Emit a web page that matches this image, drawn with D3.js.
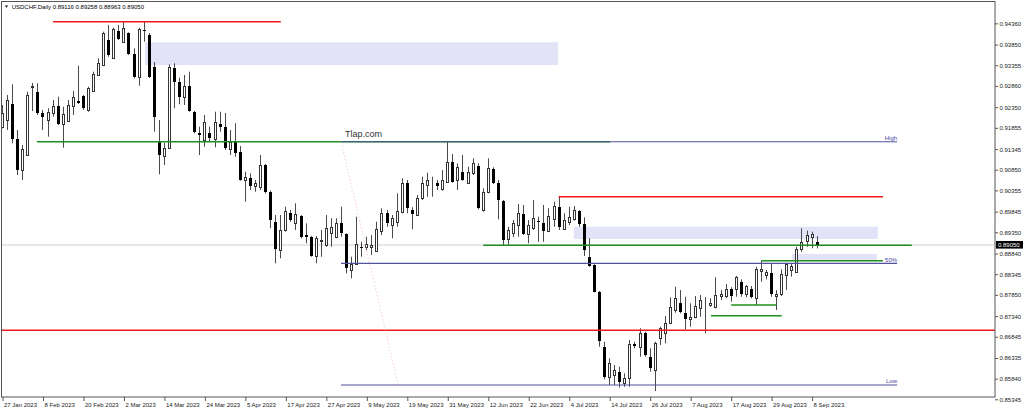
<!DOCTYPE html>
<html><head><meta charset="utf-8">
<script src="https://cdn.jsdelivr.net/npm/d3@7"></script>
<style>html,body{margin:0;padding:0;background:#fff;}svg{display:block;font-family:"Liberation Sans",Arial,sans-serif;}</style>
</head><body><svg id="c" width="1024" height="414"></svg>
<script>
// ---- data (USDCHF daily, 27 Jan 2023 .. 11 Sep 2023, one entry per trading day) ----
const symbolTitle = "USDCHF,Daily";
const lastQuote = [0.89116, 0.89258, 0.88963, 0.89050];
const opens = [0.91882,0.92042,0.92419,0.91587,0.90843,0.91203,0.92834,0.92721,0.92203,0.92042,0.92203,0.92385,0.91939,0.92018,0.92385,0.92498,0.92625,0.92282,0.92738,0.93122,0.93361,0.93961,0.93522,0.94177,0.93920,0.94122,0.93618,0.93081,0.94201,0.94081,0.93313,0.91522,0.91186,0.91378,0.93297,0.92961,0.92601,0.92865,0.92241,0.91738,0.91563,0.91724,0.91580,0.91947,0.91882,0.91340,0.91546,0.91282,0.90604,0.90644,0.90460,0.90443,0.90963,0.90323,0.89604,0.88925,0.89405,0.89805,0.89580,0.89740,0.89278,0.89244,0.88781,0.89141,0.89045,0.89340,0.89244,0.89565,0.89309,0.88445,0.88589,0.89004,0.89004,0.88990,0.88908,0.89388,0.89805,0.89525,0.89604,0.89843,0.90539,0.89884,0.89764,0.90165,0.90484,0.90508,0.90524,0.90381,0.90563,0.91042,0.90604,0.90803,0.90539,0.90764,0.90939,0.89884,0.90323,0.90860,0.90524,0.90107,0.89182,0.89326,0.89525,0.89788,0.89309,0.89445,0.89628,0.89565,0.89388,0.89661,0.89949,0.89421,0.89604,0.89661,0.89860,0.89541,0.88764,0.88565,0.87925,0.86606,0.85887,0.85928,0.86007,0.85743,0.85848,0.86671,0.86606,0.86942,0.86366,0.86047,0.86808,0.86942,0.87182,0.87486,0.87661,0.87422,0.87278,0.87326,0.87527,0.87678,0.87606,0.87565,0.87829,0.87822,0.87983,0.87983,0.88165,0.87870,0.87997,0.87767,0.88429,0.88326,0.88366,0.87822,0.87870,0.88326,0.88445,0.88405,0.88942,0.89148,0.89244,0.89116];
const highs = [0.92402,0.92642,0.92899,0.91803,0.91443,0.92721,0.92930,0.92923,0.92282,0.92323,0.92522,0.92601,0.92361,0.92522,0.92738,0.93345,0.92642,0.92841,0.93201,0.93522,0.94160,0.94321,0.94256,0.94321,0.94416,0.94145,0.93762,0.94256,0.94416,0.94129,0.93433,0.92042,0.91491,0.93378,0.93402,0.93057,0.93122,0.93201,0.92258,0.91882,0.92162,0.91882,0.92241,0.92241,0.92210,0.91803,0.91963,0.91419,0.90803,0.90764,0.90604,0.91203,0.90987,0.90347,0.89764,0.89764,0.89963,0.89884,0.90045,0.89764,0.89565,0.89261,0.89261,0.89405,0.89764,0.89685,0.89685,0.89963,0.89326,0.88764,0.89724,0.89124,0.89244,0.89285,0.89604,0.89925,0.89884,0.89764,0.90285,0.90644,0.90604,0.89949,0.90244,0.90683,0.90779,0.90683,0.90604,0.90843,0.91522,0.91227,0.91004,0.91203,0.90923,0.91124,0.91004,0.90405,0.91124,0.90908,0.90604,0.90124,0.89484,0.89644,0.90028,0.90004,0.89644,0.90124,0.89724,0.90004,0.89925,0.90083,0.90203,0.89805,0.89963,0.89980,0.89884,0.89709,0.89206,0.88582,0.87942,0.86726,0.86328,0.86167,0.86127,0.85968,0.86767,0.86726,0.87047,0.86966,0.86568,0.86726,0.87086,0.87342,0.87791,0.88045,0.87966,0.87805,0.87647,0.87822,0.87846,0.87791,0.87767,0.88270,0.87966,0.88110,0.88031,0.88302,0.88222,0.88086,0.88062,0.88525,0.88668,0.88445,0.88589,0.87966,0.88462,0.88621,0.88589,0.89004,0.89445,0.89388,0.89364,0.89258];
const lows = [0.91843,0.91803,0.91484,0.90724,0.90604,0.91179,0.92258,0.92162,0.91803,0.91642,0.92122,0.91923,0.91378,0.92002,0.92162,0.92426,0.92282,0.92241,0.92721,0.93105,0.93345,0.93560,0.93505,0.93961,0.93906,0.93601,0.93042,0.92865,0.93920,0.93050,0.91762,0.90740,0.90963,0.91364,0.92323,0.92419,0.92402,0.92241,0.91724,0.91203,0.91402,0.91522,0.91388,0.91762,0.91323,0.91203,0.91162,0.90587,0.90083,0.90364,0.90323,0.90364,0.90285,0.89445,0.88606,0.88726,0.89364,0.89604,0.89405,0.89206,0.89086,0.88764,0.88606,0.88764,0.89004,0.89004,0.89206,0.89244,0.88366,0.88246,0.88565,0.88764,0.88925,0.88805,0.88884,0.89285,0.89484,0.89206,0.89484,0.89805,0.89805,0.89421,0.89740,0.90124,0.90203,0.90203,0.90364,0.90347,0.90539,0.90539,0.90364,0.90587,0.90524,0.90724,0.89901,0.89843,0.90285,0.90508,0.89661,0.89045,0.89045,0.89230,0.89244,0.89285,0.89086,0.89405,0.89124,0.89124,0.89364,0.89484,0.89405,0.89405,0.89525,0.89628,0.89484,0.88781,0.88525,0.87911,0.86606,0.85824,0.85688,0.85688,0.85628,0.85647,0.85647,0.86568,0.86366,0.86366,0.86007,0.85544,0.86647,0.86688,0.87167,0.87422,0.87407,0.87023,0.87086,0.87287,0.87326,0.86928,0.87565,0.87527,0.87726,0.87767,0.87685,0.87805,0.87805,0.87791,0.87767,0.87606,0.88165,0.88222,0.87805,0.87486,0.87822,0.87966,0.88285,0.88381,0.88884,0.89004,0.88966,0.88963];
const closes = [0.92203,0.92522,0.91587,0.90843,0.91340,0.92642,0.92846,0.92203,0.92122,0.92227,0.92385,0.91939,0.92179,0.92402,0.92601,0.92443,0.92323,0.92817,0.93138,0.93417,0.94122,0.93601,0.94225,0.93985,0.94241,0.93618,0.93081,0.94225,0.94165,0.93074,0.92122,0.91203,0.91378,0.93321,0.92961,0.92601,0.92858,0.92258,0.91747,0.91683,0.91994,0.91604,0.91987,0.91867,0.91364,0.91522,0.91258,0.90604,0.90668,0.90460,0.90524,0.90963,0.90323,0.89644,0.88942,0.89405,0.89868,0.89644,0.89788,0.89244,0.89230,0.88781,0.89206,0.89153,0.89445,0.89484,0.89580,0.89340,0.88486,0.88589,0.89069,0.88997,0.89069,0.89045,0.89421,0.89820,0.89580,0.89685,0.89868,0.90524,0.89925,0.89788,0.90165,0.90524,0.90604,0.90515,0.90460,0.90604,0.91042,0.90563,0.90908,0.90604,0.90803,0.91019,0.89925,0.90323,0.90884,0.90524,0.90124,0.89165,0.89405,0.89580,0.89805,0.89309,0.89525,0.89685,0.89589,0.89388,0.89740,0.89980,0.89484,0.89644,0.89724,0.89884,0.89549,0.88925,0.88541,0.87925,0.86750,0.85887,0.86223,0.86047,0.85767,0.85848,0.86671,0.86623,0.86942,0.86407,0.86088,0.86688,0.87047,0.87182,0.87551,0.87767,0.87445,0.87263,0.87311,0.87582,0.87726,0.87690,0.87661,0.87846,0.87870,0.87997,0.87822,0.88270,0.87870,0.88062,0.87791,0.88462,0.88462,0.88397,0.87870,0.87870,0.88350,0.88589,0.88541,0.88956,0.89124,0.89285,0.89302,0.89050];
const dateTickBars = [0,8,16,24,32,40,48,56,64,72,80,88,96,104,112,120,128,136,144,152,160];
const dateTickLabels = ["27 Jan 2023","8 Feb 2023","20 Feb 2023","2 Mar 2023","14 Mar 2023","24 Mar 2023","5 Apr 2023","17 Apr 2023","27 Apr 2023","9 May 2023","19 May 2023","31 May 2023","12 Jun 2023","22 Jun 2023","4 Jul 2023","14 Jul 2023","26 Jul 2023","7 Aug 2023","17 Aug 2023","29 Aug 2023","8 Sep 2023"];
const priceTicks = [0.94360,0.93850,0.93355,0.92860,0.92350,0.91855,0.91345,0.90850,0.90355,0.89845,0.89350,0.88840,0.88345,0.87850,0.87340,0.86845,0.86335,0.85840,0.85345];
// drawn objects: bar-index spans and price levels
const zones = [{b0:28.3,b1:109.9,top:0.93906,bot:0.93361},{b0:113,b1:173.1,top:0.89484,bot:0.89189},{b0:156.1,b1:172.9,top:0.88829,bot:0.88678}];
const redLevels = [{p:0.94400,b0:10.1,b1:55.1},{p:0.90203,b0:110,b1:174.1},{p:0.87000,b0:-2,b1:200}];
const greenLevels = [{p:0.91522,b0:6.9,b1:120.2},{p:0.89038,b0:95.1,b1:179.8},{p:0.88668,b0:150.1,b1:174.1},{p:0.87606,b0:144.1,b1:153.1},{p:0.87349,b0:140.1,b1:154.1}];
const fibAnchor = {b0:67,b1:176.9,bEnd:78.3,high:0.91522,low:0.85688};
const fibRatios = [1,0.5,0];
const fibLabels = ["High","50%","Low"];
const watermark = "Tlap.com";

// ---- drawing ----
const svg = d3.select("#c");
const R = 995, B = 397;
const x = d3.scaleLinear().domain([0,196]).range([2, 2+5.06*196]);
const y = d3.scaleLinear().domain([0.85345,0.94360]).range([399.3,23.35]);
const snap = v => Math.round(v)+0.5;

svg.append("defs").append("clipPath").attr("id","pc").append("rect")
  .attr("x",2).attr("y",2).attr("width",R-2).attr("height",B-2);
const g = svg.append("g").attr("clip-path","url(#pc)");

// zones (background)
g.selectAll("rect.z").data(zones).join("rect").attr("class","z")
  .attr("x",d=>x(d.b0)).attr("width",d=>x(d.b1)-x(d.b0))
  .attr("y",d=>y(d.top)).attr("height",d=>y(d.bot)-y(d.top))
  .attr("fill","#e3e3f8");

// bid line
g.append("line").attr("x1",0).attr("x2",R).attr("y1",snap(y(lastQuote[3]))-0.5).attr("y2",snap(y(lastQuote[3]))-0.5)
  .attr("stroke","#cfcfcf").attr("stroke-width",1);

// candles
const bars = d3.range(opens.length).map(i=>({i,o:opens[i],h:highs[i],l:lows[i],c:closes[i]}));
const cx = i => Math.round(x(i))+0.5;
g.selectAll("line.w").data(bars).join("line").attr("class","w")
  .attr("x1",d=>cx(d.i)).attr("x2",d=>cx(d.i))
  .attr("y1",d=>y(d.h)).attr("y2",d=>y(d.l))
  .attr("stroke","#4a4a4a").attr("stroke-width",1);
g.selectAll("rect.bear").data(bars.filter(d=>d.c<d.o)).join("rect").attr("class","bear")
  .attr("x",d=>cx(d.i)-1.5).attr("width",3)
  .attr("y",d=>Math.round(y(d.o))).attr("height",d=>Math.max(1,Math.round(y(d.c))-Math.round(y(d.o))))
  .attr("fill","#000");
g.selectAll("rect.bull").data(bars.filter(d=>d.c>=d.o)).join("rect").attr("class","bull")
  .attr("x",d=>cx(d.i)-1).attr("width",2)
  .attr("y",d=>snap(y(d.c))).attr("height",d=>Math.max(0,snap(y(d.o))-snap(y(d.c))))
  .attr("fill","#fff").attr("stroke","#333").attr("stroke-width",1);

// green levels
g.selectAll("line.gr").data(greenLevels).join("line").attr("class","gr")
  .attr("x1",d=>x(d.b0)).attr("x2",d=>x(d.b1)).attr("y1",d=>y(d.p)).attr("y2",d=>y(d.p))
  .attr("stroke","#1f8f1f").attr("stroke-width",1.6);
// red levels
g.selectAll("line.rd").data(redLevels).join("line").attr("class","rd")
  .attr("x1",d=>x(d.b0)).attr("x2",d=>x(d.b1)).attr("y1",d=>y(d.p)).attr("y2",d=>y(d.p))
  .attr("stroke","#f01818").attr("stroke-width",1.6);
// fibonacci (drawn over the levels)
const fibLev = fibRatios.map((r,k)=>({p:fibAnchor.low+r*(fibAnchor.high-fibAnchor.low),label:fibLabels[k]}));
g.append("line").attr("x1",x(fibAnchor.b0)).attr("y1",y(fibAnchor.high)).attr("x2",x(fibAnchor.bEnd)).attr("y2",y(fibAnchor.low))
  .attr("stroke","#f2b4b4").attr("stroke-width",1).attr("stroke-dasharray","1.5,2").attr("opacity",0.6);
g.selectAll("line.fb").data(fibLev).join("line").attr("class","fb")
  .attr("x1",x(fibAnchor.b0)).attr("x2",x(fibAnchor.b1)).attr("y1",d=>y(d.p)).attr("y2",d=>y(d.p))
  .attr("stroke","#52529e").attr("stroke-width",1.1);
g.selectAll("text.fb").data(fibLev).join("text").attr("class","fb")
  .attr("x",x(fibAnchor.b1)).attr("y",d=>y(d.p)-1.8).attr("text-anchor","end")
  .attr("font-size",6).attr("fill","#4646a0").text(d=>d.label);
// watermark text
g.append("text").attr("x",x(fibAnchor.b0)+4).attr("y",y(fibAnchor.high)-4.5)
  .attr("font-size",9).attr("fill","#333").text(watermark);

// frame
svg.append("rect").attr("x",1.5).attr("y",1.5).attr("width",R-1.5).attr("height",B-1.5)
  .attr("fill","none").attr("stroke","#555").attr("stroke-width",1);

// axes
const xa = svg.append("g").attr("transform",`translate(0,${B})`)
  .call(d3.axisBottom(x).tickValues(dateTickBars).tickFormat((d,k)=>dateTickLabels[k]).tickSize(4).tickSizeOuter(0));
xa.select(".domain").remove();
xa.selectAll(".tick line").attr("stroke","#555").attr("transform","translate(0.5,0)");
xa.selectAll(".tick text").attr("text-anchor","start").attr("x",1.5).attr("y",7.5).attr("dy","0.35em")
  .attr("font-size",6).attr("font-family","Liberation Sans, Arial, sans-serif").attr("fill","#222");

const ya = svg.append("g").attr("transform",`translate(${R},0)`)
  .call(d3.axisRight(y).tickValues(priceTicks).tickFormat(d3.format(".5f")).tickSize(3).tickPadding(1.5).tickSizeOuter(0));
ya.select(".domain").remove();
ya.selectAll(".tick line").attr("stroke","#555");
ya.selectAll(".tick text").attr("font-size",6).attr("font-family","Liberation Sans, Arial, sans-serif").attr("fill","#222");

// current price tag
const yc = y(lastQuote[3]);
svg.append("rect").attr("x",R+1).attr("y",yc-3.8).attr("width",27).attr("height",7.6).attr("fill","#000");
svg.append("text").attr("x",R+3).attr("y",yc).attr("dy","0.35em").attr("font-size",6).attr("fill","#fff")
  .text(d3.format(".5f")(lastQuote[3]));

// title
svg.append("path").attr("d","M5,5.5 L8,5.5 L6.5,7.8 Z").attr("fill","#000");
svg.append("text").attr("x",11.7).attr("y",8.8).attr("font-size",6).attr("fill","#000")
  .text(symbolTitle+"  "+lastQuote.map(d3.format(".5f")).join(" "));
</script></body></html>
